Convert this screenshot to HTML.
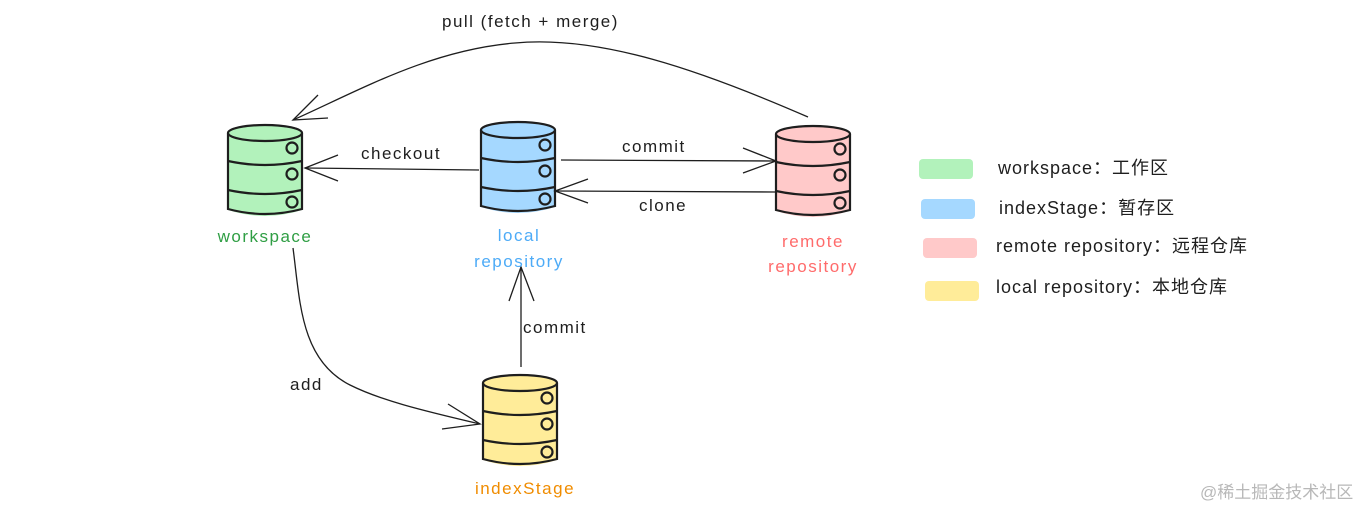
<!DOCTYPE html>
<html><head><meta charset="utf-8"><style>
body{margin:0;background:#fff}
svg text{font-family:"Liberation Sans","Noto Sans CJK SC",sans-serif}
</style></head><body>
<svg width="1367" height="509" viewBox="0 0 1367 509" xmlns="http://www.w3.org/2000/svg">
<defs>
<g id="cyl" stroke="#1e1e1e" stroke-width="2.2" fill="none">
<path d="M0 8 L0 84 Q37 94 74 84 L74 8" />
<ellipse cx="37" cy="8" rx="37" ry="8"/>
<path d="M0 36 Q37 44 74 36 M0 65 Q37 73 74 65"/>
<circle cx="64" cy="23" r="5.5"/><circle cx="64" cy="49" r="5.5"/><circle cx="64" cy="77" r="5.5"/>
</g>
</defs>
<g>
<path d="M228 133 L228 210 Q265 222 302 210 L302 133 Z" fill="#b2f2bb"/><ellipse cx="265" cy="133" rx="37" ry="8" fill="#b2f2bb"/>
<use href="#cyl" x="228" y="125"/>
<path d="M481 130 L481 207 Q518 219 555 207 L555 130 Z" fill="#a5d8ff"/><ellipse cx="518" cy="130" rx="37" ry="8" fill="#a5d8ff"/>
<use href="#cyl" x="481" y="122"/>
<path d="M776 134 L776 211 Q813 223 849 211 L849 134 Z" fill="#ffc9c9"/><ellipse cx="812" cy="134" rx="37" ry="8" fill="#ffc9c9"/>
<use href="#cyl" x="776" y="126"/>
<path d="M483 383 L483 460 Q520 472 557 460 L557 383 Z" fill="#ffec99"/><ellipse cx="520" cy="383" rx="37" ry="8" fill="#ffec99"/>
<use href="#cyl" x="483" y="375"/>
</g>
<g stroke="#1e1e1e" stroke-width="1.3" fill="none">
<path d="M808 117 C700 70 600 35 515 43 C430 50 360 90 293 120"/>
<path d="M318 95 L293 120 L328 118"/>
<path d="M479 170 L305 168"/><path d="M338 155 L305 168 L338 181"/>
<path d="M561 160 L776 161"/><path d="M743 148 L776 161 L743 173"/>
<path d="M775 192 L555 191"/><path d="M588 179 L555 191 L588 203"/>
<path d="M521 367 L521 267"/><path d="M509 301 L521 267 L534 301"/>
<path d="M293 248 C300 300 300 360 350 385 C380 400 420 410 480 424"/><path d="M448 404 L480 424 L442 429"/>
</g>
<g font-size="17" fill="#1e1e1e" letter-spacing="1.5">
<text x="442" y="27">pull (fetch + merge)</text>
<text x="361" y="159">checkout</text>
<text x="622" y="152">commit</text>
<text x="639" y="211">clone</text>
<text x="523" y="333">commit</text>
<text x="290" y="390">add</text>
</g>
<g font-size="17" text-anchor="middle" letter-spacing="1.5">
<text x="265" y="242" fill="#2f9e44">workspace</text>
<text x="519" y="241" fill="#4dabf7">local</text>
<text x="519" y="267" fill="#4dabf7">repository</text>
<text x="813" y="247" fill="#ff6b6b">remote</text>
<text x="813" y="272" fill="#ff6b6b">repository</text>
<text x="525" y="494" fill="#f08c00">indexStage</text>
</g>
<rect x="919" y="159" width="54" height="20" rx="4" fill="#b2f2bb"/>
<rect x="921" y="199" width="54" height="20" rx="4" fill="#a5d8ff"/>
<rect x="923" y="238" width="54" height="20" rx="4" fill="#ffc9c9"/>
<rect x="925" y="281" width="54" height="20" rx="4" fill="#ffec99"/>
<g font-size="18" fill="#1e1e1e" letter-spacing="1">
<text x="998" y="174">workspace：工作区</text>
<text x="999" y="214">indexStage：暂存区</text>
<text x="996" y="252">remote repository：远程仓库</text>
<text x="996" y="293">local repository：本地仓库</text>
</g>
<text x="1200" y="498" font-size="17" fill="#b8b8b8">@稀土掘金技术社区</text>
</svg>
</body></html>
